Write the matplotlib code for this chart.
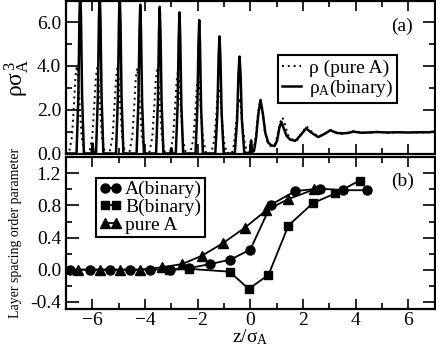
import matplotlib
matplotlib.use("Agg")
import matplotlib.pyplot as plt
from matplotlib.ticker import MultipleLocator, FormatStrFormatter

plt.rcParams['font.family'] = ['Liberation Serif', 'DejaVu Serif']
plt.rcParams['mathtext.fontset'] = 'custom'
plt.rcParams['mathtext.rm'] = 'Liberation Serif'
plt.rcParams['mathtext.it'] = 'Liberation Serif:italic'
plt.rcParams['axes.unicode_minus'] = True

# ---------------- panel (a): density profiles ----------------
z_binary = [-7.0, -6.60, -6.53, -6.49, -6.46, -6.43, -6.39, -6.32,
            -6.03, -5.99, -5.95,
            -5.86, -5.79, -5.75, -5.72, -5.69, -5.65, -5.58,
            -5.10, -5.03, -4.99, -4.96, -4.93, -4.89, -4.82,
            -4.32, -4.25, -4.21, -4.18, -4.15, -4.11, -4.04,
            -3.58, -3.51, -3.47, -3.44, -3.41, -3.37, -3.30,
            -3.04, -3.00, -2.96,
            -2.83, -2.76, -2.72, -2.69, -2.66, -2.62, -2.55,
            -2.08, -2.01, -1.97, -1.94, -1.91, -1.87, -1.80,
            -1.33, -1.25, -1.205, -1.17, -1.135, -1.09, -1.01,
            -0.59, -0.50, -0.45, -0.41, -0.37, -0.32, -0.23, -0.10,
            -0.01, 0.03, 0.07,
            0.14, 0.22, 0.30, 0.39, 0.48, 0.57, 0.68, 0.80, 0.92,
            1.02, 1.10, 1.18, 1.27, 1.38, 1.52, 1.71,
            1.92, 2.12, 2.32, 2.58,
            2.82, 3.04, 3.28, 3.50,
            3.72, 3.92, 4.20, 4.50, 4.80, 5.20, 5.60, 6.00, 6.40, 6.80, 7.00]
rho_binary = [0.0, 0.0, 2.66, 6.23, 7.6, 6.23, 2.66, 0.0,
              0.0, 0.45, 0.0,
              0.0, 2.63, 6.15, 7.5, 6.15, 2.63, 0.0,
              0.0, 2.56, 5.99, 7.3, 5.99, 2.56, 0.0,
              0.0, 2.38, 5.58, 6.8, 5.58, 2.38, 0.0,
              0.0, 2.35, 5.49, 6.7, 5.49, 2.35, 0.0,
              0.0, 0.25, 0.0,
              0.0, 2.26, 5.29, 6.45, 5.29, 2.26, 0.0,
              0.0, 2.14, 5.0, 6.1, 5.0, 2.14, 0.0,
              0.0, 1.87, 4.39, 5.35, 4.39, 1.87, 0.0,
              0.0, 1.55, 3.63, 4.43, 3.63, 1.55, 0.05, 0.02,
              0.03, 0.6, 0.06,
              0.12, 0.7, 1.75, 2.45, 1.8, 0.95, 0.5, 0.37, 0.34,
              0.6, 1.15, 1.45, 1.15, 0.8, 0.63, 0.58,
              0.85, 1.15, 0.95, 0.75,
              0.9, 1.06, 0.94, 0.92,
              0.94, 1.0, 0.95, 0.96, 0.98, 0.96, 0.97, 0.96, 0.97, 0.97, 1.0]

z_pureA = [-7.0, -6.89, -6.77, -6.69, -6.64, -6.59, -6.54, -6.49, -6.41, -6.29,
           -6.12, -6.00, -5.92, -5.87, -5.82, -5.77, -5.72, -5.64, -5.52,
           -5.35, -5.23, -5.15, -5.10, -5.05, -5.00, -4.95, -4.87, -4.75,
           -4.60, -4.48, -4.40, -4.35, -4.30, -4.25, -4.20, -4.12, -4.00,
           -3.84, -3.72, -3.64, -3.59, -3.54, -3.49, -3.44, -3.36, -3.24,
           -3.05, -2.93, -2.85, -2.80, -2.75, -2.70, -2.65, -2.57, -2.45,
           -2.28, -2.16, -2.08, -2.03, -1.98, -1.93, -1.88, -1.80, -1.68,
           -1.49, -1.37, -1.29, -1.24, -1.19, -1.14, -1.09, -1.01, -0.89,
           -0.70, -0.62, -0.53, -0.47, -0.42, -0.37, -0.30, -0.20, -0.08, 0.05,
           0.13, 0.22, 0.30, 0.38, 0.46, 0.55, 0.67, 0.82,
           0.95, 1.05, 1.13, 1.22, 1.31, 1.43, 1.62,
           1.78, 1.95, 2.13, 2.35, 2.60,
           2.85, 3.04, 3.30, 3.50,
           3.70, 3.92, 4.20, 4.45, 4.85, 5.20, 5.70, 6.10, 6.50, 7.00]
rho_pureA = [0.0, 0.0, 0.8, 2.4, 3.52, 4.0, 3.52, 2.4, 0.8, 0.0,
             0.0, 0.78, 2.34, 3.43, 3.9, 3.43, 2.34, 0.78, 0.0,
             0.0, 0.78, 2.34, 3.43, 3.9, 3.43, 2.34, 0.78, 0.0,
             0.0, 0.78, 2.34, 3.43, 3.9, 3.43, 2.34, 0.78, 0.0,
             0.0, 0.76, 2.28, 3.34, 3.8, 3.34, 2.28, 0.76, 0.0,
             0.0, 0.75, 2.24, 3.29, 3.74, 3.29, 2.24, 0.75, 0.0,
             0.0, 0.69, 2.07, 3.04, 3.45, 3.04, 2.07, 0.69, 0.0,
             0.0, 0.6, 1.8, 2.64, 3.0, 2.64, 1.8, 0.6, 0.0,
             0.0, 0.4, 1.5, 2.25, 2.55, 2.25, 1.3, 0.35, 0.05, 0.03,
             0.2, 0.9, 1.9, 2.45, 1.95, 1.0, 0.45, 0.3,
             0.45, 0.95, 1.4, 1.65, 1.35, 0.85, 0.6,
             0.62, 0.92, 1.25, 0.97, 0.76,
             0.9, 1.08, 0.94, 0.9,
             0.94, 1.02, 0.95, 0.94, 1.0, 0.95, 0.98, 0.96, 0.97, 0.98]

# ---------------- panel (b): layer spacing order parameter ----------------
z_A_binary = [-6.84, -6.08, -5.32, -4.56, -3.80, -3.04, -2.31, -1.52, -0.76, 0.0, 0.79, 1.71, 2.63, 3.52, 4.43]
op_A_binary = [0.0, 0.0, 0.0, 0.0, 0.0, 0.0, 0.02, 0.07, 0.125, 0.25, 0.81, 0.98, 1.01, 0.99, 0.99]

z_B_binary = [-3.07, -2.31, -0.79, -0.06, 0.69, 1.45, 2.38, 3.23, 4.15]
op_B_binary = [0.0, 0.01, -0.025, -0.24, -0.065, 0.55, 0.83, 0.95, 1.11]

z_pure = [-6.55, -5.72, -4.96, -4.20, -3.35, -2.59, -1.83, -1.04, -0.22, 0.61, 1.45, 2.43]
op_pure = [0.0, 0.0, 0.0, 0.0, 0.03, 0.07, 0.175, 0.33, 0.52, 0.74, 0.88, 1.0]

FS = 14

fig = plt.figure(figsize=(4.36, 3.49), dpi=100)
ax1 = fig.add_axes([66/436, 1 - 153.5/349, 368.6/436, 152.5/349])
ax2 = fig.add_axes([66/436, 1 - 309/349, 368.6/436, 152.5/349])

for ax in (ax1, ax2):
    for s in ax.spines.values():
        s.set_linewidth(1.6)
    ax.set_xlim(-7, 7)
    ax.xaxis.set_major_locator(MultipleLocator(2))
    ax.xaxis.set_minor_locator(MultipleLocator(1))
    ax.tick_params(which='both', direction='in', top=True, right=True, width=1.2,
                   labelsize=FS)
    ax.tick_params(axis='y', which='major', length=9)
    ax.tick_params(axis='y', which='minor', length=4.5)
    ax.tick_params(axis='x', which='major', length=7, pad=2)
    ax.tick_params(axis='x', which='minor', length=4.5)

# panel (a)
ax1.plot(z_pureA, rho_pureA, color='black', lw=1.4, linestyle=(0, (1, 2)),
         label='ρ (pure A)')
ax1.plot(z_binary, rho_binary, color='black', lw=1.8, label='ρ$_\\mathrm{A}$(binary)')
ax1.set_ylim(0, 6.97)
ax1.yaxis.set_major_locator(MultipleLocator(2))
ax1.yaxis.set_minor_locator(MultipleLocator(1))
ax1.yaxis.set_major_formatter(FormatStrFormatter('%.1f'))
ax1.tick_params(axis='x', labelbottom=False)
ax1.set_ylabel('ρσ$_\\mathrm{A}^{\\,3}$', fontsize=17, labelpad=4)
ax1.text(0.912, 0.837, '(a)', transform=ax1.transAxes, fontsize=FS,
         ha='center', va='center')
leg1 = ax1.legend(loc='upper right', bbox_to_anchor=(0.898, 0.646), fontsize=FS,
                  frameon=True, fancybox=False, framealpha=1, edgecolor='black',
                  handlelength=1.0, handletextpad=0.4, borderpad=0.2,
                  labelspacing=0.05, borderaxespad=0)
leg1.get_frame().set_linewidth(1.5)

# panel (b)
ax2.plot(z_A_binary, op_A_binary, color='black', lw=1.3, marker='o', ms=6.5,
         label='A(binary)')
ax2.plot(z_B_binary, op_B_binary, color='black', lw=1.3, marker='s', ms=5.5,
         label='B(binary)')
ax2.plot(z_pure, op_pure, color='black', lw=1.3, marker='^', ms=7,
         label='pure A')
ax2.set_ylim(-0.49, 1.41)
ax2.yaxis.set_major_locator(MultipleLocator(0.4))
ax2.yaxis.set_minor_locator(MultipleLocator(0.2))
ax2.yaxis.set_major_formatter(FormatStrFormatter('%.1f'))
ax2.set_xlabel('z/σ$_\\mathrm{A}$', fontsize=FS, labelpad=-1)
ax2.set_ylabel('Layer spacing order parameter', fontsize=10, labelpad=6)
ax2.text(0.912, 0.838, '(b)', transform=ax2.transAxes, fontsize=FS,
         ha='center', va='center')
leg2 = ax2.legend(loc='upper left', bbox_to_anchor=(0.081, 0.86), fontsize=FS,
                  numpoints=2, frameon=True, fancybox=False, framealpha=1,
                  edgecolor='black', handlelength=1.2, handletextpad=0.15,
                  borderpad=0.15, labelspacing=0.0, borderaxespad=0)
leg2.get_frame().set_linewidth(1.5)

fig.savefig('out.png', dpi=100)
